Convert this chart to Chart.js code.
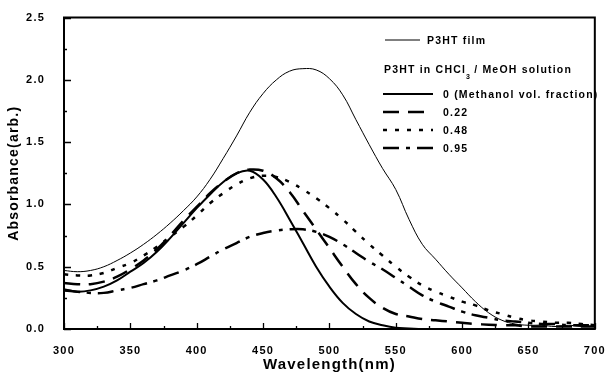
<!DOCTYPE html>
<html>
<head>
<meta charset="utf-8">
<script src="https://cdn.jsdelivr.net/npm/chart.js@4.4.0/dist/chart.umd.min.js"></script>
<style>
  html, body { margin: 0; padding: 0; background: #fff; }
  #wrap { width: 611px; height: 374px; }
</style>
</head>
<body>
<div id="wrap"><canvas id="myChart" width="611" height="374"></canvas></div>
<script>
// wavelength (nm) and absorbance of each sample
const wavelengths = [300, 310, 320, 330, 340, 350, 360, 370, 380, 390, 400, 410, 420, 430, 440, 450, 460, 470, 480, 490, 500,
  510, 520, 530, 540, 550, 560, 570, 580, 590, 600, 610, 620, 630, 640, 650, 660, 670, 680, 690, 700];
const film = [0.47, 0.46, 0.47, 0.50, 0.55, 0.61, 0.68, 0.76, 0.85, 0.95, 1.06, 1.20, 1.37, 1.55, 1.74, 1.89, 2.00, 2.07, 2.09, 2.08, 2.01,
  1.88, 1.68, 1.48, 1.29, 1.12, 0.88, 0.68, 0.56, 0.44, 0.33, 0.22, 0.13, 0.07, 0.04, 0.03, 0.03, 0.02, 0.03, 0.02, 0.02];
const meoh0 = [0.32, 0.30, 0.31, 0.34, 0.39, 0.46, 0.53, 0.62, 0.73, 0.85, 0.97, 1.08, 1.18, 1.25, 1.27, 1.20, 1.06, 0.88, 0.69, 0.50, 0.34,
  0.21, 0.12, 0.06, 0.03, 0.01, 0.005, 0, 0, 0, 0, 0, 0, 0, 0, 0, 0, 0, 0, 0, 0];
const meoh022 = [0.37, 0.36, 0.36, 0.38, 0.42, 0.48, 0.55, 0.64, 0.75, 0.87, 0.98, 1.09, 1.18, 1.25, 1.28, 1.27, 1.21, 1.10, 0.95, 0.80, 0.65,
  0.50, 0.36, 0.25, 0.17, 0.12, 0.10, 0.08, 0.07, 0.06, 0.05, 0.04, 0.035, 0.03, 0.03, 0.02, 0.02, 0.02, 0.02, 0.02, 0.02];
const meoh048 = [0.44, 0.43, 0.43, 0.45, 0.49, 0.53, 0.59, 0.66, 0.74, 0.82, 0.91, 1.01, 1.09, 1.16, 1.21, 1.23, 1.22, 1.18, 1.12, 1.05, 0.97,
  0.88, 0.78, 0.68, 0.59, 0.50, 0.42, 0.35, 0.30, 0.26, 0.22, 0.19, 0.15, 0.12, 0.09, 0.07, 0.06, 0.05, 0.05, 0.04, 0.03];
const meoh095 = [0.31, 0.30, 0.29, 0.29, 0.31, 0.33, 0.36, 0.39, 0.43, 0.47, 0.52, 0.58, 0.64, 0.69, 0.74, 0.77, 0.79, 0.80, 0.80, 0.78, 0.74,
  0.68, 0.61, 0.54, 0.48, 0.41, 0.34, 0.27, 0.22, 0.18, 0.14, 0.11, 0.09, 0.07, 0.06, 0.05, 0.04, 0.04, 0.03, 0.03, 0.03];
const yTicks = [0, 0.5, 1.0, 1.5, 2.0, 2.5];

const FONT = "'Liberation Sans', Arial, sans-serif";

function points(arr) {
  return wavelengths.map((w, i) => ({ x: w, y: arr[i] }));
}

function line(label, arr, width, dash) {
  return {
    label: label,
    data: points(arr),
    borderColor: '#000',
    borderWidth: width,
    borderDash: dash,
    pointRadius: 0,
    tension: 0.4,
    fill: false
  };
}

// all the lettering is a little spaced out
const spacing = {
  id: 'spacing',
  beforeDraw(chart) {
    chart.ctx.letterSpacing = '1.2px';
  }
};

// box around the plot with inward tick marks
const frameTicks = {
  id: 'frameTicks',
  afterDraw(chart) {
    const ctx = chart.ctx;
    const a = chart.chartArea;
    const x = chart.scales.x, y = chart.scales.y;
    ctx.save();
    ctx.strokeStyle = '#000';
    ctx.setLineDash([]);
    ctx.lineWidth = 2;
    ctx.beginPath();
    ctx.rect(a.left, a.top, a.right - a.left, a.bottom - a.top);
    ctx.stroke();
    ctx.lineWidth = 1.3;
    ctx.beginPath();
    for (let v = 300; v <= 700; v += 25) {
      const px = Math.round(x.getPixelForValue(v)) + 0.5;
      const len = v % 50 === 0 ? 6 : 3;
      ctx.moveTo(px, a.bottom);
      ctx.lineTo(px, a.bottom - len);
    }
    for (let i = 0; i <= 10; i++) {
      const py = Math.round(y.getPixelForValue(i * 0.25)) + 0.5;
      const len = i % 2 === 0 ? 7 : 3;
      ctx.moveTo(a.left, py);
      ctx.lineTo(a.left + len, py);
    }
    ctx.stroke();
    ctx.restore();
  }
};

// legend block in the upper right corner
const legendBlock = {
  id: 'legendBlock',
  afterDraw(chart) {
    const ctx = chart.ctx;
    const ds = chart.data.datasets;
    ctx.save();
    ctx.fillStyle = '#000';
    ctx.strokeStyle = '#000';
    ctx.textBaseline = 'middle';
    ctx.textAlign = 'left';
    ctx.letterSpacing = '1.2px';
    ctx.font = 'bold 10.5px ' + FONT;

    function sample(d, x0, x1, yy) {
      ctx.lineWidth = d.borderWidth;
      ctx.setLineDash(d.borderDash || []);
      ctx.beginPath();
      ctx.moveTo(x0, yy);
      ctx.lineTo(x1, yy);
      ctx.stroke();
    }

    sample(ds[0], 385, 420, 40);
    ctx.fillText('P3HT film', 427, 41);

    let hx = 384;
    const hy = 70;
    ctx.fillText('P3HT in CHCl', hx, hy);
    hx += ctx.measureText('P3HT in CHCl').width;
    ctx.font = 'bold 7px ' + FONT;
    ctx.fillText('3', hx, hy + 7);
    ctx.font = 'bold 10.5px ' + FONT;
    ctx.fillText(' / MeOH solution', hx + 4, hy);

    const rows = [
      { d: ds[1], text: '0 (Methanol vol. fraction)', y: 94 },
      { d: ds[2], text: '0.22', y: 112 },
      { d: ds[3], text: '0.48', y: 130 },
      { d: ds[4], text: '0.95', y: 148 }
    ];
    rows.forEach(r => {
      sample(r.d, 383, 433, r.y);
      ctx.fillText(r.text, 443, r.y + 1);
    });
    ctx.restore();
  }
};

new Chart(document.getElementById('myChart'), {
  type: 'line',
  data: {
    datasets: [
      line('P3HT film', film, 1, []),
      line('0', meoh0, 2, []),
      line('0.22', meoh022, 2.5, [16, 9]),
      line('0.48', meoh048, 2.5, [4, 8]),
      line('0.95', meoh095, 2.5, [16, 7, 4, 7])
    ]
  },
  options: {
    responsive: false,
    devicePixelRatio: 1,
    animation: false,
    layout: { padding: { top: 17, right: 13, left: 0, bottom: 0 } },
    plugins: {
      legend: { display: false },
      tooltip: { enabled: false }
    },
    scales: {
      x: {
        type: 'linear',
        min: 300,
        max: 700,
        grid: { display: false },
        border: { display: false },
        ticks: {
          stepSize: 50,
          color: '#000',
          padding: 7,
          maxRotation: 0,
          font: { family: FONT, size: 11, weight: 'bold' }
        },
        title: {
          display: true,
          text: 'Wavelength(nm)',
          color: '#000',
          padding: { top: 0, bottom: 0 },
          font: { family: FONT, size: 15, weight: 'bold' }
        },
        afterFit(s) { s.height = 45; }
      },
      y: {
        min: 0,
        max: 2.5,
        grid: { display: false },
        border: { display: false },
        afterBuildTicks(s) { s.ticks = yTicks.map(v => ({ value: v })); },
        ticks: {
          color: '#000',
          padding: 11,
          callback: v => v.toFixed(1),
          font: { family: FONT, size: 11, weight: 'bold' }
        },
        title: {
          display: true,
          text: 'Absorbance(arb.)',
          color: '#000',
          padding: { top: 6, bottom: 0 },
          font: { family: FONT, size: 14, weight: 'bold' }
        },
        afterFit(s) { s.width = 64; }
      }
    }
  },
  plugins: [spacing, frameTicks, legendBlock]
});
</script>
</body>
</html>
